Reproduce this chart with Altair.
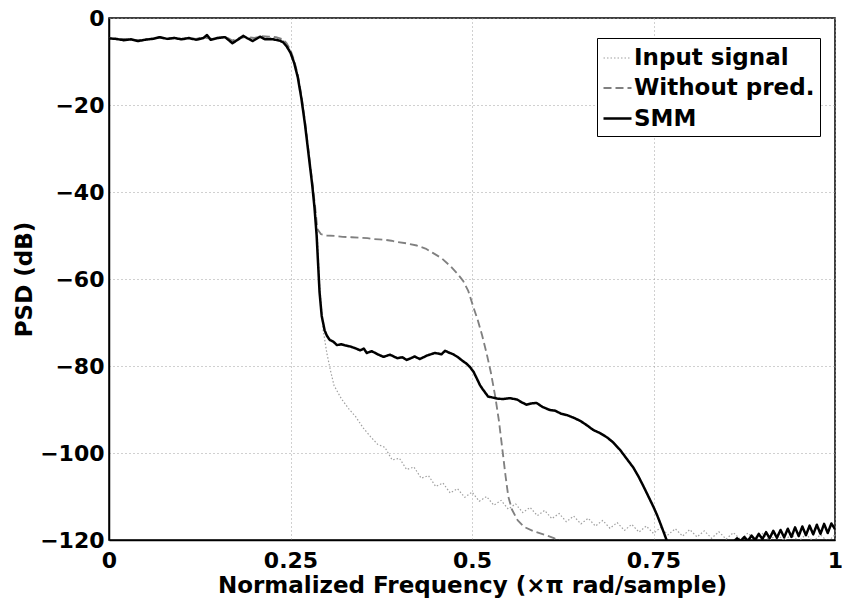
import altair as alt
import pandas as pd

# ---------------- data ----------------
series_names = ["Input signal", "Without pred.", "SMM"]

input_freq = [0.000, 0.010, 0.020, 0.030, 0.040, 0.050, 0.060, 0.070, 0.080, 0.090,
              0.100, 0.110, 0.120, 0.130, 0.140, 0.150, 0.160, 0.170, 0.180, 0.190,
              0.200, 0.210, 0.220, 0.230, 0.240,
              0.245, 0.250, 0.255, 0.260, 0.265, 0.270, 0.275, 0.280,
              0.284, 0.287, 0.290, 0.293, 0.295, 0.300, 0.305, 0.310, 0.320, 0.330,
              0.340, 0.350, 0.360, 0.370,
              0.38, 0.39, 0.40, 0.41, 0.42, 0.43, 0.44, 0.45, 0.46, 0.47,
              0.48, 0.49, 0.50, 0.51, 0.52, 0.53, 0.54, 0.55, 0.56, 0.57,
              0.58, 0.59, 0.60, 0.61, 0.62, 0.63, 0.64, 0.65, 0.66, 0.67,
              0.68, 0.69, 0.70, 0.71, 0.72, 0.73, 0.74, 0.75, 0.76, 0.77,
              0.78, 0.79, 0.80, 0.81, 0.82, 0.83, 0.84, 0.85, 0.86, 0.87,
              0.88, 0.89, 0.90, 0.91, 0.92, 0.93, 0.94, 0.95, 0.96, 0.97,
              0.98, 0.99, 1.00]
input_psd = [-4.7, -4.8, -4.9, -5.0, -5.2, -5.0, -4.8, -4.5, -4.8, -4.6,
             -4.9, -4.6, -4.9, -4.5, -4.9, -4.6, -4.4, -5.4, -4.6, -4.5,
             -4.7, -4.3, -4.5, -4.6, -5.1,
             -6.0, -7.6, -9.9, -13.2, -18.0, -24.0, -31.0, -38.0,
             -44.0, -50.0, -61.0, -67.5, -71.7, -77.0, -81.0, -84.5, -87.5, -89.8,
             -91.7, -94.2, -96.2, -98.0,
             -98.7, -101.6, -101.2, -103.8, -103.2, -105.8, -105.2, -107.7, -106.9, -109.2,
             -108.2, -110.2, -109.0, -111.1, -110.0, -112.0, -110.9, -112.9, -111.7, -113.7,
             -112.5, -114.4, -113.2, -115.1, -113.9, -115.8, -114.5, -116.3, -115.0, -116.8,
             -115.5, -117.3, -116.0, -117.8, -116.4, -118.2, -116.8, -118.5, -117.1, -118.8,
             -117.4, -119.1, -117.6, -119.3, -117.9, -119.6, -118.1, -119.8, -118.3, -119.9,
             -118.4, -120.0, -118.5, -120.1, -118.6, -120.2, -118.7, -120.3, -118.7, -120.3,
             -118.8, -120.4, -118.8]

nopred_freq = [0.000, 0.010, 0.020, 0.030, 0.040, 0.050, 0.060, 0.070, 0.080, 0.090,
               0.100, 0.110, 0.120, 0.130, 0.140, 0.150, 0.160, 0.170, 0.180, 0.190,
               0.200, 0.210, 0.220, 0.230, 0.240,
               0.245, 0.250, 0.255, 0.260, 0.265, 0.270, 0.275, 0.280,
               0.284, 0.287, 0.292, 0.300,
               0.311, 0.322, 0.334, 0.345, 0.356, 0.364, 0.372, 0.380, 0.389, 0.397,
               0.410, 0.424, 0.436, 0.446,
               0.458, 0.470, 0.480, 0.488, 0.495, 0.502, 0.508, 0.514, 0.520, 0.526,
               0.532, 0.537, 0.541, 0.546, 0.550, 0.555, 0.563, 0.572, 0.585, 0.600,
               0.612, 0.625]
nopred_psd = [-4.6, -4.9, -4.8, -5.0, -5.1, -4.9, -4.7, -4.5, -4.7, -4.5,
              -4.8, -4.6, -4.8, -4.4, -4.8, -4.5, -4.3, -5.2, -4.5, -4.4,
              -4.6, -4.2, -4.3, -4.4, -4.9,
              -5.9, -7.4, -9.7, -13.0, -17.8, -23.8, -30.8, -37.8,
              -43.5, -48.5, -49.7, -50.0,
              -50.1, -50.3, -50.4, -50.5, -50.6, -50.8, -50.9, -51.0, -51.2, -51.5,
              -51.8, -52.3, -53.0, -54.0,
              -55.2, -57.0, -58.8, -60.5, -62.8, -66.5, -69.5, -73.0, -77.0, -81.5,
              -87.0, -92.5, -98.0, -105.0, -110.0, -113.0, -115.5, -117.0, -118.0, -118.8,
              -119.5, -120.5]

smm_freq = [0.000, 0.010, 0.020, 0.030, 0.040, 0.050, 0.060, 0.070, 0.080, 0.090,
            0.100, 0.110, 0.120, 0.130, 0.135, 0.140, 0.150, 0.160, 0.170, 0.180,
            0.185, 0.190, 0.198, 0.208, 0.215, 0.226, 0.235, 0.240, 0.245, 0.250,
            0.255, 0.260, 0.265, 0.270, 0.275, 0.280, 0.283, 0.286, 0.288, 0.290,
            0.293, 0.297, 0.300, 0.304, 0.309, 0.314, 0.320, 0.326, 0.332, 0.339,
            0.346, 0.351, 0.355, 0.362, 0.370, 0.378, 0.387, 0.397, 0.404, 0.410,
            0.416, 0.421, 0.428, 0.438, 0.449, 0.458, 0.463, 0.468, 0.474, 0.480,
            0.486, 0.492, 0.497, 0.502, 0.507, 0.511, 0.515, 0.519, 0.522, 0.527,
            0.535, 0.543, 0.552, 0.562, 0.568, 0.575, 0.582, 0.589, 0.597, 0.607,
            0.615, 0.623, 0.631, 0.640, 0.649, 0.658, 0.667, 0.676, 0.686, 0.694,
            0.704, 0.713, 0.722, 0.729, 0.736, 0.743, 0.750, 0.755, 0.759, 0.764,
            0.768, 0.772, 0.800, 0.840, 0.860, 0.865, 0.870, 0.875, 0.880, 0.885,
            0.890, 0.895, 0.900, 0.905, 0.910, 0.915, 0.920, 0.925, 0.930, 0.935,
            0.940, 0.945, 0.950, 0.955, 0.960, 0.965, 0.970, 0.975, 0.980, 0.985,
            0.990, 0.995, 1.000]
smm_psd = [-4.7, -4.8, -5.1, -4.9, -5.3, -5.0, -4.8, -4.4, -4.8, -4.6,
           -4.9, -4.6, -5.0, -4.6, -3.9, -5.0, -4.6, -4.4, -5.8, -4.7,
           -4.1, -4.6, -5.3, -4.3, -4.9, -4.9, -5.2, -5.6, -6.6, -8.0,
           -10.3, -13.6, -18.5, -24.5, -31.5, -38.5, -43.5, -50.0, -56.5, -63.0,
           -68.5, -71.8, -73.0, -74.0, -74.4, -75.2, -75.0, -75.3, -75.5, -75.9,
           -76.4, -76.0, -77.0, -76.6, -77.3, -77.9, -77.4, -78.2, -78.0, -78.6,
           -78.2, -77.8, -78.4, -77.6, -77.0, -77.3, -76.5, -76.9, -77.3, -77.9,
           -78.7, -79.4, -80.2, -81.3, -83.0, -84.4, -85.4, -86.3, -87.0, -87.2,
           -87.5, -87.6, -87.4, -87.7, -88.3, -88.9, -88.6, -88.5, -89.4, -90.1,
           -90.3, -91.0, -91.3, -91.9, -92.6, -93.6, -94.7, -95.4, -96.4, -97.5,
           -99.3, -101.3, -103.3, -105.3, -107.6, -110.0, -112.4, -114.3, -116.0, -118.2,
           -120.0, -121.5, -122.0, -121.5, -120.5, -119.6, -120.3, -119.3, -120.2, -119.0,
           -120.0, -118.6, -119.8, -118.2, -119.6, -117.9, -119.5, -117.7, -119.4, -117.4,
           -119.3, -117.1, -119.1, -116.9, -118.9, -116.7, -118.7, -116.5, -118.6, -116.3,
           -118.4, -116.2, -117.5]

x_ticks = [0, 0.25, 0.5, 0.75, 1]
y_ticks = [-120, -100, -80, -60, -40, -20, 0]

# ---------------- build table ----------------
rows = []
for name, fx, fy in [("Input signal", input_freq, input_psd),
                     ("Without pred.", nopred_freq, nopred_psd),
                     ("SMM", smm_freq, smm_psd)]:
    assert len(fx) == len(fy), (name, len(fx), len(fy))
    for i, (a, b) in enumerate(zip(fx, fy)):
        rows.append({"series": name, "freq": a, "psd": b, "idx": i})
df = pd.DataFrame(rows)

FONT = "DejaVu Sans"

legend = alt.Legend(
    title=None, orient="none", legendX=488, legendY=20,
    symbolType="stroke", symbolSize=784,
    labelFont=FONT, labelFontSize=23, labelFontWeight="bold", labelColor="black",
    labelLimit=400,
    padding=5, labelOffset=1, rowPadding=3,
    strokeColor="black", fillColor="white", cornerRadius=0,
)

chart = alt.Chart(df).mark_line(clip=True, strokeJoin="round", strokeCap="butt").encode(
    x=alt.X("freq:Q",
            scale=alt.Scale(domain=[0, 1], nice=False, zero=False),
            axis=alt.Axis(values=x_ticks, format=".2~f",
                          title="Normalized Frequency (×π rad/sample)")),
    y=alt.Y("psd:Q",
            scale=alt.Scale(domain=[-120, 0], nice=False),
            axis=alt.Axis(values=y_ticks, format="d", title="PSD (dB)")),
    color=alt.Color("series:N",
                    scale=alt.Scale(domain=series_names,
                                    range=["#a0a0a0", "#808080", "#000000"]),
                    legend=legend),
    strokeDash=alt.StrokeDash("series:N",
                              scale=alt.Scale(domain=series_names,
                                              range=[[1.5, 2], [8, 4], [1, 0]]),
                              legend=legend),
    strokeWidth=alt.StrokeWidth("series:N",
                                scale=alt.Scale(domain=series_names,
                                                range=[1.2, 2.5, 2.5]),
                                legend=legend),
    order=alt.Order("idx:Q"),
).properties(
    width=726, height=522,
    autosize=alt.AutoSizeParams(type="none"),
    padding={"left": 109, "top": 18, "right": 7, "bottom": 65},
).configure_view(
    stroke="black", strokeWidth=1.5
).configure_axis(
    domainColor="black", domainWidth=1.5, ticks=False,
    grid=True, gridColor="#a0a0a0", gridDash=[1, 3], gridWidth=1,
    labelFont=FONT, labelFontSize=22, labelFontWeight="bold", labelColor="black",
    titleFont=FONT, titleFontSize=23, titleFontWeight="bold", titleColor="black",
    labelFlush=False, labelOverlap=False,
).configure_axisX(
    labelPadding=10, titlePadding=3
).configure_axisY(
    labelPadding=5, titlePadding=3
)

chart.save("out.html", embed_options={"renderer": "svg", "actions": False})
